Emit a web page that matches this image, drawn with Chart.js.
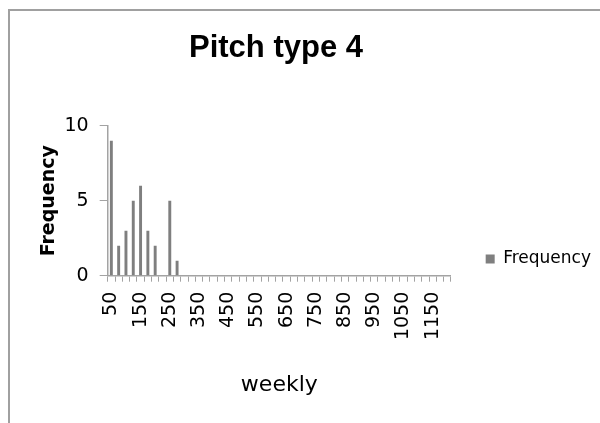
<!DOCTYPE html>
<html lang="en">

<head>
    <meta charset="UTF-8">
    <title>Pitch type 4</title>
    <style>
        body {
            margin: 0;
            background: #fff;
            overflow: hidden;
        }

        /* the chart is wider/taller than the window, like the cropped original */
        #grafico {
            position: absolute;
            left: -49px;
            top: 0;
        }
    </style>
</head>

<body>
    <canvas id="grafico" width="650" height="518"></canvas>

    <script src="https://cdn.jsdelivr.net/npm/chart.js"></script>

    <script>
        const categorias = [50, 75, 100, 125, 150, 175, 200, 225, 250, 275,
            300, 325, 350, 375, 400, 425, 450, 475, 500, 525,
            550, 575, 600, 625, 650, 675, 700, 725, 750, 775,
            800, 825, 850, 875, 900, 925, 950, 975, 1000, 1025,
            1050, 1075, 1100, 1125, 1150, 1175, 1200];

        const frequencia = [9, 2, 3, 5, 6, 3, 2, 0, 5, 1,
            0, 0, 0, 0, 0, 0, 0, 0, 0, 0,
            0, 0, 0, 0, 0, 0, 0, 0, 0, 0,
            0, 0, 0, 0, 0, 0, 0, 0, 0, 0,
            0, 0, 0, 0, 0, 0, 0];

        const rotulosX = ['50', '150', '250', '350', '450', '550', '650', '750', '850', '950', '1050', '1150'];

        const cinzaEixo = '#a3a3a3';
        const fonteTexto = "'DejaVu Sans', sans-serif";

        // moldura cinza do grafico (esquerda e topo)
        const moldura = {
            id: 'moldura',
            beforeDraw: function (chart) {
                const ctx = chart.ctx;
                ctx.save();
                ctx.strokeStyle = '#a0a0a0';
                ctx.lineWidth = 2;
                ctx.beginPath();
                ctx.moveTo(58, chart.height);
                ctx.lineTo(58, 10);
                ctx.lineTo(chart.width, 10);
                ctx.stroke();
                ctx.restore();
            }
        };

        const config = {
            type: 'bar',
            data: {
                labels: categorias,
                datasets: [{
                    label: 'Frequency',
                    data: frequencia,
                    backgroundColor: '#7f7f7f',
                    categoryPercentage: 1,
                    barPercentage: 0.4
                }]
            },
            options: {
                responsive: false,
                animation: false,
                layout: {
                    padding: 0
                },
                scales: {
                    x: {
                        offset: true,
                        grid: {
                            offset: true,
                            drawOnChartArea: false,
                            tickLength: 6,
                            color: cinzaEixo
                        },
                        border: {
                            color: cinzaEixo,
                            width: 1.5
                        },
                        ticks: {
                            autoSkip: false,
                            minRotation: 90,
                            maxRotation: 90,
                            padding: 10,
                            color: '#000',
                            font: { family: fonteTexto, size: 19 },
                            callback: function (valor, indice) {
                                const rotulo = String(this.getLabelForValue(valor));
                                return rotulosX.includes(rotulo) ? rotulo : '';
                            }
                        },
                        title: {
                            display: true,
                            text: 'weekly',
                            color: '#000',
                            font: { family: fonteTexto, size: 22 },
                            padding: { top: 0, bottom: 120 }
                        },
                        afterFit: function (escala) {
                            escala.height = 242.3;
                        }
                    },
                    y: {
                        min: 0,
                        max: 10,
                        ticks: {
                            stepSize: 5,
                            padding: 11,
                            color: '#000',
                            font: { family: fonteTexto, size: 19 }
                        },
                        grid: {
                            drawOnChartArea: false,
                            tickLength: 8,
                            color: cinzaEixo
                        },
                        border: {
                            color: cinzaEixo,
                            width: 1.5
                        },
                        title: {
                            display: true,
                            text: 'Frequency',
                            color: '#000',
                            font: { family: fonteTexto, size: 19, weight: 'bold' },
                            padding: { top: 86.6, bottom: 0 }
                        },
                        afterFit: function (escala) {
                            escala.width = 156.7;
                        }
                    }
                },
                plugins: {
                    legend: {
                        position: 'right',
                        labels: {
                            boxWidth: 9,
                            boxHeight: 9,
                            padding: 34.7,
                            color: '#000',
                            font: { family: fonteTexto, size: 17 }
                        }
                    },
                    title: {
                        display: true,
                        text: 'Pitch type 4',
                        color: '#000',
                        font: {
                            family: "'Liberation Sans', sans-serif",
                            size: 31,
                            weight: 'bold'
                        },
                        padding: { top: 29.4, bottom: 59.1 }
                    },
                    tooltip: { enabled: false }
                }
            },
            plugins: [moldura]
        };

        let grafico = new Chart(
            document.getElementById('grafico'),
            config
        );
    </script>
</body>

</html>
